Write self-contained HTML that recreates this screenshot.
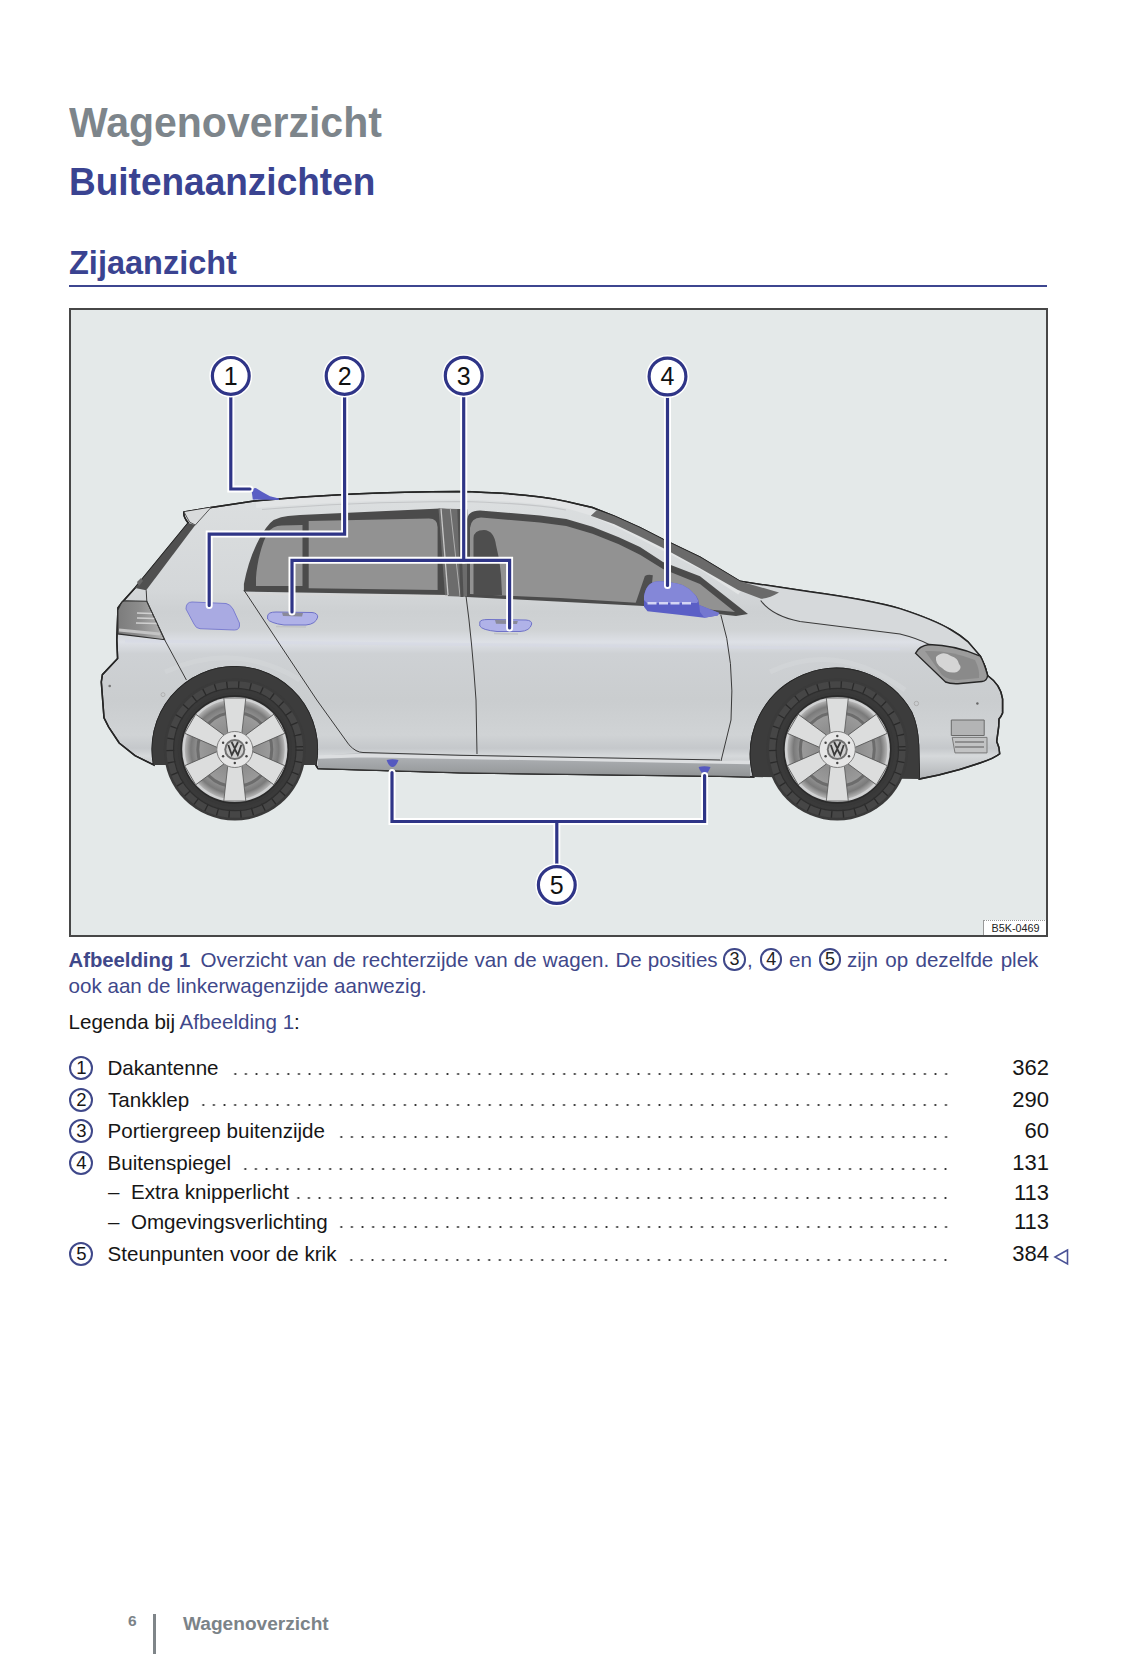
<!DOCTYPE html>
<html><head><meta charset="utf-8">
<style>
html,body{margin:0;padding:0;background:#fff;}
body{width:1142px;height:1654px;position:relative;overflow:hidden;font-family:"Liberation Sans",sans-serif;}
.a{position:absolute;white-space:nowrap;line-height:1;}
.h1{left:69px;top:103px;font-size:41px;font-weight:bold;color:#7d858b;transform:scaleY(1.055);transform-origin:0 34.7px;}
.h2{left:69px;top:164px;font-size:37px;font-weight:bold;color:#3a4391;transform:scaleY(1.045);transform-origin:0 31.3px;}
.h3{left:69px;top:247px;font-size:32.5px;font-weight:bold;color:#3a4391;}
.rule{position:absolute;left:69px;top:285px;width:978px;height:2px;background:#3d4690;}
.fig{position:absolute;left:69px;top:308px;width:975px;height:625px;border:2px solid #474747;background:#e4e9e9;overflow:hidden;}
.cap{font-size:20.6px;color:#3f488a;}
.leg{font-size:20.6px;color:#161616;}
.pg{right:93px;font-size:22px;color:#161616;}
.dots{position:absolute;height:4px;background-image:radial-gradient(circle at 50% 50%,#333 0,#333 0.75px,rgba(51,51,51,0) 1.35px);background-size:10.62px 4px;background-repeat:repeat-x;}
.cn{position:absolute;box-sizing:border-box;width:24px;height:24px;border:2px solid #3f488a;border-radius:50%;text-align:center;line-height:20.5px;font-size:18.5px;color:#161616;}
.cc{position:absolute;box-sizing:border-box;width:22.6px;height:22.6px;border:2.2px solid #3f488a;border-radius:50%;text-align:center;line-height:18.6px;font-size:18px;color:#222;}
</style></head>
<body>
<div class="a h1">Wagenoverzicht</div>
<div class="a h2">Buitenaanzichten</div>
<div class="a h3">Zijaanzicht</div>
<div class="rule"></div>
<div class="fig">
<svg width="975" height="625" viewBox="71 310 975 625" style="position:absolute;left:0;top:0">
<defs>
  <linearGradient id="bodyG" gradientUnits="userSpaceOnUse" x1="0" y1="490" x2="0" y2="780">
    <stop offset="0" stop-color="#dcdfe0"/>
    <stop offset="0.345" stop-color="#d4d7d9"/>
    <stop offset="0.42" stop-color="#cdd0d2"/>
    <stop offset="0.483" stop-color="#d0d3d5"/>
    <stop offset="0.524" stop-color="#dde0e6"/>
    <stop offset="0.565" stop-color="#ced1d4"/>
    <stop offset="0.724" stop-color="#cacdcf"/>
    <stop offset="0.845" stop-color="#d0d3d5"/>
    <stop offset="0.89" stop-color="#c5c8cb"/>
    <stop offset="0.917" stop-color="#d6d9db"/>
    <stop offset="1" stop-color="#aeb1b4"/>
  </linearGradient>
  <linearGradient id="tailG" x1="0" y1="0" x2="0" y2="1">
    <stop offset="0" stop-color="#9a9a9a"/>
    <stop offset="0.55" stop-color="#858585"/>
    <stop offset="1" stop-color="#b8b8b8"/>
  </linearGradient>
  <linearGradient id="mirG" x1="0" y1="0" x2="0" y2="1">
    <stop offset="0" stop-color="#8588dc"/>
    <stop offset="0.5" stop-color="#6366cc"/>
    <stop offset="1" stop-color="#4448b4"/>
  </linearGradient>
  <radialGradient id="gapG" cx="0.5" cy="0.5" r="0.5">
    <stop offset="0" stop-color="#a8a8a8"/>
    <stop offset="0.4" stop-color="#8e8e8e"/>
    <stop offset="0.7" stop-color="#9a9a9a"/>
    <stop offset="0.88" stop-color="#7a7a7a"/>
    <stop offset="1" stop-color="#b5b5b5"/>
  </radialGradient>
  <g id="wheel">
    <circle r="71" fill="#3a3a3a"/>
    <circle r="64.5" fill="none" stroke="#464646" stroke-width="7.6"/>
    <circle r="64.5" fill="none" stroke="#2a2a2a" stroke-width="7.8" stroke-dasharray="1.3 10.5"/>
    <circle r="61.2" fill="none" stroke="#2e2e2e" stroke-width="1.2"/>
    <circle r="57" fill="#383838"/>
    <circle r="53.5" fill="none" stroke="#2a2a2a" stroke-width="1.5"/>
    <circle r="52.6" fill="#cfd0d1"/>
    <circle r="50" fill="url(#gapG)"/>
    <circle r="37" fill="none" stroke="#6c6c6c" stroke-width="3"/>
    <g fill="#dcdddd" stroke="#555" stroke-width="0.8">
      <path id="spk" d="M-7,-16 L-11,-51.5 L11,-51.5 L7,-16 Z"/>
      <use href="#spk" transform="rotate(60)"/>
      <use href="#spk" transform="rotate(120)"/>
      <use href="#spk" transform="rotate(180)"/>
      <use href="#spk" transform="rotate(240)"/>
      <use href="#spk" transform="rotate(300)"/>
    </g>
    <circle r="18" fill="#e6e6e6" stroke="#7f7f7f" stroke-width="1"/>
    <g fill="#444"><circle cx="0" cy="-13.5" r="1.2"/><circle cx="11.7" cy="-6.75" r="1.2"/><circle cx="11.7" cy="6.75" r="1.2"/><circle cx="0" cy="13.5" r="1.2"/><circle cx="-11.7" cy="6.75" r="1.2"/><circle cx="-11.7" cy="-6.75" r="1.2"/></g>
    <circle r="10.5" fill="#6f6f6f"/>
    <circle r="8.6" fill="#d0d0d0"/>
    <path d="M-6.5,-4.5 L-3,5.5 L0,-0.5 L3,5.5 L6.5,-4.5 M-3.2,-7.5 L0,-1 L3.2,-7.5" fill="none" stroke="#3a3a3a" stroke-width="1.8"/>
  </g>
</defs>
<!-- body silhouette -->
<path d="M184,512 L211,507.5 L254,501 Q350,492 458,491.5 Q530,493 566.3,501.4 L592.5,507.5 L614.4,516.3 L640,527.7 L663,539.4 L700,557.2 L740,581.3 L810,591.8 Q870,600 900,608.6 Q935,620 951.3,630 Q960,635 967.7,641.6 L980.3,656.1 L985.1,666.8 L987.6,675.5 Q1001,685 1002.6,699 L1002.6,713 Q1001,717 999,719 L998.7,726.7 L996.7,741.3 Q999.5,747 999.7,753.8 Q995,758 980,763 Q960,770 938.7,775.1 L919.3,779 L918.5,745 Q917.5,725 911.4,712 A86,86 0 0 0 753.6,777 L720,776.3 L460,772.8 L318,768.6 L315.8,765 A82.5,82.5 0 1 0 153.8,765 L135,755.6 L119.2,743 L108.7,727.2 L104,717.8 L102.9,703 L101.3,682 L102.4,674.7 L117.6,658.4 L116.8,640 L118,607.7 L122.4,602 L135,588 L188.3,523 Q183,517 184,512 Z" fill="url(#bodyG)" stroke="#262626" stroke-width="1.5"/>
<!-- roof rail highlight -->
<path d="M256,505 Q350,497 458,496.5 Q530,498 566,505 L590,512 L625,528 L700,566 L740,592" fill="none" stroke="#e2e4e5" stroke-width="6"/>
<path d="M262,509.5 Q350,502 458,501.5 Q530,503 566,510" fill="none" stroke="#c4c6c8" stroke-width="1.2"/>
<!-- hood lighter panel -->
<path d="M740,581.3 L810,591.8 Q870,600 900,608.6 Q935,620 951.3,630 Q960,635 967.7,641.6 L980.3,656.1 L954,647.4 L929,644.5 Q918,638.5 900,634 L800,621.5 Q772,616 760.7,600.5 Z" fill="#d6d9db"/>
<path d="M760.7,600.5 Q772,616 800,621.5 L900,634 Q918,638.5 929,644.5" fill="none" stroke="#3a3a3a" stroke-width="1.1"/>
<path d="M184,512 L211,507.5 L254,501 Q350,492 458,491.5 Q530,493 566.3,501.4 L592.5,507.5 L614.4,516.3 L640,527.7 L663,539.4 L700,557.2 L740,581.3 L810,591.8 Q870,600 900,608.6 Q935,620 951.3,630 Q960,635 967.7,641.6 L980.3,656.1 L985.1,666.8 L987.6,675.5 Q1001,685 1002.6,699 L1002.6,713 Q1001,717 999,719 L998.7,726.7 L996.7,741.3 Q999.5,747 999.7,753.8 Q995,758 980,763 Q960,770 938.7,775.1 L919.3,779 L918.5,745 Q917.5,725 911.4,712 A86,86 0 0 0 753.6,777 L720,776.3 L460,772.8 L318,768.6 L315.8,765 A82.5,82.5 0 1 0 153.8,765 L135,755.6 L119.2,743 L108.7,727.2 L104,717.8 L102.9,703 L101.3,682 L102.4,674.7 L117.6,658.4 L116.8,640 L118,607.7 L122.4,602 L135,588 L188.3,523 Q183,517 184,512 Z" fill="none" stroke="#262626" stroke-width="1.5"/>
<!-- shoulder blue tint line -->
<path d="M125,641 L900,649" stroke="#d6d9e6" stroke-width="3" opacity="0.5"/>
<!-- small details -->
<circle cx="109.7" cy="686" r="1.3" fill="#777"/>
<circle cx="163" cy="694.6" r="2" fill="none" stroke="#aaa" stroke-width="0.8"/>
<circle cx="916.4" cy="703.5" r="2.2" fill="none" stroke="#aaa" stroke-width="0.9"/>
<path d="M770,672 Q836,640 905,690" fill="none" stroke="#d6d9dc" stroke-width="5" opacity="0.45"/>
<path d="M165,672 Q234,640 300,680" fill="none" stroke="#d6d9dc" stroke-width="5" opacity="0.4"/>
<!-- wheel arches dark -->
<path d="M919.3,779 L918.5,745 Q917.5,725 911.4,712 A86,86 0 0 0 753.6,777 Z" fill="#3c3c3c"/>
<path d="M315.8,765 A82.5,82.5 0 1 0 153.8,765 Z" fill="#3c3c3c"/>
<use href="#wheel" x="837.3" y="749.5"/>
<use href="#wheel" x="234.8" y="749.5"/>
<!-- sill -->
<linearGradient id="sillG" x1="0" y1="0" x2="0" y2="1"><stop offset="0" stop-color="#c4c7ca"/><stop offset="0.3" stop-color="#a9acaf"/><stop offset="0.75" stop-color="#9a9d9f"/><stop offset="1" stop-color="#8f9294"/></linearGradient>
<path d="M363,752.5 L720,760 L750,762 L750,777 L720,776.3 L460,772.8 L318,768.6 L318,756 Z" fill="url(#sillG)"/>
<path d="M318,757 L363,755.5 L750,762.5" stroke="#dcdee0" stroke-width="3.5" fill="none"/>
<path d="M318,768.6 L460,772.8 L720,776.3 L750,777" stroke="#333" stroke-width="1.1" fill="none"/>
<!-- rear hatch glass strip -->
<path d="M188.3,523 L195.3,525 L146.2,590.2 L135,588 Z" fill="#505050"/>
<path d="M184,512 L189.7,522.2 L195.3,525 L211,507.5" fill="#d9dbdc" stroke="#333" stroke-width="0.8"/>
<path d="M137,582 L141,578 L143,581 L139,586 Z" fill="#666"/>
<!-- rear windows -->
<path d="M243.9,591.5 L243.9,584 C248,562 256,542 266,528 Q273,517 288,516 L300,515 L440,508.6 L447,509 L449,595 Z" fill="#4b4b4b"/>
<path d="M256,586 L256,578 C257,562 262,542 268,533 Q272,525.5 282,525.5 L302.5,525 L302.5,586 Z" fill="#929292"/>
<path d="M308.7,588.2 L308.7,521 L429,518.4 Q437.6,518.4 437.6,527 L437.6,590 Z" fill="#929292"/>
<path d="M438.5,508.5 L467.3,509.3 L470,597 L445,596 Z" fill="#6c6c6c"/>
<path d="M441,508.5 L448,595" stroke="#c8c8c8" stroke-width="1.3"/>
<path d="M450.3,508.5 L460,596" stroke="#b5b5b5" stroke-width="0.9"/>
<path d="M458.8,509 L462,597" stroke="#505050" stroke-width="3"/>
<path d="M243,594 L448,596" stroke="#d6d6d6" stroke-width="1.5"/>
<!-- front window -->
<path d="M467,597 L467,521 Q467,510.5 480,510.5 L540,515.4 L566.3,518.9 L592.5,526.8 L618.8,537.3 L640,546.9 L663,562 L700,576.2 L748,614 L736,616 L644,606 Z" fill="#4b4b4b"/>
<path d="M470,594 L470,528 Q471,517.5 481,517.5 L540,522.4 L566.3,525.9 L592.5,533.8 L618.8,544.3 L640,554.8 L663,568.9 L700,584 L735,612 L644,603.2 L560,598 Z" fill="#929292"/>
<path d="M473.5,595 L473.5,538 Q474,530 484,530 Q494,530.5 496,545 Q500,560 501,575 L502,595 Z" fill="#4e4e4e"/>
<path d="M635.3,604 L644.9,576 Q648,574 652.8,575.3 L650,604 Z" fill="#4f4f4f"/>
<!-- windshield dark strip -->
<path d="M597,510 L614.4,516.3 L640,527.7 L663,539.4 L700,557.2 L740,581.3 L779,592.5 Q770,598 761,598.8 L738,590 L700,568.2 L663,548 L640,536.4 L614.4,524.2 L590.8,515.8 Z" fill="#6a6a6a"/>
<!-- tail light -->
<linearGradient id="tlG" x1="0" y1="0" x2="1" y2="0"><stop offset="0" stop-color="#7c7c7c"/><stop offset="0.45" stop-color="#8c8c8c"/><stop offset="1" stop-color="#b4b4b4"/></linearGradient>
<path d="M120.5,604.5 Q122,601 124.7,600.8 L146.8,601.3 L164.6,639.7 L117.9,633.9 L117.9,610 Z" fill="url(#tlG)" stroke="#2e2e2e" stroke-width="1.1"/>
<path d="M137,613 L152,613.5 M137,618 L155,618.5 M136,623 L157,623.5" stroke="#d0d0d0" stroke-width="1.6"/>
<path d="M119,630 L160,634" stroke="#c4c4c4" stroke-width="3"/>
<!-- headlight -->
<path d="M915.5,653.2 Q919,646 929,644.5 Q955,645 980.3,656.1 Q984,662 987.6,675.5 Q987,681 982,681.5 L958,683.7 Q950,684 945.5,682 Z" fill="#9c9c9c" stroke="#262626" stroke-width="1.4"/>
<path d="M925,651 Q950,650 975,660 Q980,670 979,678 L958,680 Q948,680 942,675 Z" fill="#8a8a8a"/>
<path d="M936,657 Q943,650 951,656 Q958,658 959,664 Q963,668 957,672 Q948,674 942,668 Q935,664 936,657 Z" fill="#d5d5d5"/>
<!-- fog light / grille -->
<path d="M951.3,720 L984.2,720 L984.2,735.5 L951.3,735.5 Z" fill="#b3b4b5" stroke="#6a6a6a" stroke-width="1"/>
<path d="M952.2,737.4 L987,737.4 L987,752.9 L955,752.9 Z" fill="#c2c3c4" stroke="#7a7a7a" stroke-width="1"/>
<path d="M955,742 L984,742 M955,747 L984,747" stroke="#7d7d7d" stroke-width="1.3"/>
<circle cx="977.4" cy="703.5" r="1.2" fill="#666"/>
<!-- lines -->
<g fill="none" stroke="#3a3a3a" stroke-width="1">
  <path d="M243.9,590 L283.5,650 L316.8,700 L349,744.8 Q356,752.5 363,752.5 L460,755.3 L720,760"/>
  <path d="M466,596 Q472,640 476,700 L477,754"/>
  <path d="M720.8,614.8 Q735,660 731,720 L721,761"/>
  <path d="M146.2,590.2 L146.8,601.3 L164.6,639.7 L186.4,680"/>
</g>
<!-- blue parts -->
<path d="M252.8,499.6 L251.7,491.6 Q253,487.5 256.2,488.2 Q262,492 270,496.2 L279,498.5 L279,500 Z" fill="#5a5ec4"/>
<path d="M186,609 Q186,602 192,602 L226,603.5 Q230,604 233,609 L239.4,623 Q240.5,630 234.5,630 L200,628.7 Q196,628.5 194,624 Z" fill="#a9aae2" stroke="#7c7ed0" stroke-width="1"/>
<path d="M267.6,616 Q268,612 276,612 L312,612.5 Q317.7,613 317.7,617 Q316,624 306,625 L284,625 Q270,623 267.6,619 Z" fill="#b0b2e8" stroke="#6f72c8" stroke-width="1"/>
<path d="M282,612.5 L303,613 L302,616.5 L283,616 Z" fill="#8a8a9a"/>
<path d="M276,626.5 L306,627" stroke="#c2c4c6" stroke-width="1.6"/>
<path d="M479.8,622 Q480.5,619.5 488,619.5 L526,620 Q532,620.5 531.7,624 Q530,631 520,631.5 L497,631.5 Q482,630 479.8,626 Z" fill="#b0b2e8" stroke="#6f72c8" stroke-width="1"/>
<path d="M495,620 L518,620.3 L517,624 L496,623.8 Z" fill="#8a8a9a"/>
<path d="M494,633.5 L518,634" stroke="#c2c4c6" stroke-width="1.6"/>
<path d="M644,606.8 L644,596.3 Q646,583 656.3,581.4 Q664,581 669.4,582.3 Q676,583 682.5,584.9 Q689,588 693,592.8 Q697,596 698.3,599.8 L699.2,605 L719.3,612.9 L717.6,615.5 L704.4,617.7 L679,614.7 L647.5,611.2 Z" fill="#5b5fc6"/>
<path d="M644,600 L644,596.3 Q646,583 656.3,581.4 Q664,581 669.4,582.3 Q676,583 682.5,584.9 Q689,588 693,592.8 Q697,596 698.3,601 L697,603 L647,603 Z" fill="#8487d8"/>
<path d="M699.2,605 L719.3,612.9 L717.6,615.5 L704.4,617.7 L700,612 Z" fill="#7477d0"/>
<path d="M647.5,603.3 L693,603.3" stroke="#d4d5f4" stroke-width="2.6" stroke-dasharray="9 2.5"/>
<path d="M386.6,760 Q392.5,758.5 398.5,760 Q396,767 392.5,767 Q389,767 386.6,760 Z" fill="#5559c0"/>
<path d="M698.6,767 Q704.5,765.5 710.5,767 Q708,774 704.5,774 Q701,774 698.6,767 Z" fill="#5559c0"/>
<!-- callouts -->
<g fill="none" stroke-linejoin="miter" stroke-linecap="round">
  <g stroke="#fff" stroke-width="7">
    <path d="M230.8,396 L230.8,489 L250,489"/>
    <path d="M344.6,396 L344.6,534.1 L209.2,534.1 L209.2,605.5"/>
    <path d="M463.7,396 L463.7,560"/><path d="M292,612 L292,560.3 L509.6,560.3 L509.6,628"/>
    <path d="M667.5,397 L667.5,585.5"/>
    <path d="M556.8,865 L556.8,821.5"/><path d="M392,772.5 L392,821.5 L704.6,821.5 L704.6,775.5"/>
  </g>
  <g stroke="#2f3587" stroke-width="3.2">
    <path d="M230.8,396 L230.8,489 L250,489"/>
    <path d="M344.6,396 L344.6,534.1 L209.2,534.1 L209.2,605.5"/>
    <path d="M463.7,396 L463.7,560"/><path d="M292,612 L292,560.3 L509.6,560.3 L509.6,628"/>
    <path d="M667.5,397 L667.5,585.5"/>
    <path d="M556.8,865 L556.8,821.5"/><path d="M392,772.5 L392,821.5 L704.6,821.5 L704.6,775.5"/>
  </g>
</g>
<g fill="#fff" stroke="#fff" stroke-width="2"><circle cx="230.8" cy="375.9" r="20.5"/><circle cx="344.6" cy="375.9" r="20.5"/><circle cx="463.7" cy="375.7" r="20.5"/><circle cx="667.5" cy="376.5" r="20.5"/><circle cx="556.8" cy="885" r="20.5"/></g>
<g fill="#fff" stroke="#2f3587" stroke-width="3.2">
  <circle cx="230.8" cy="375.9" r="18.4"/>
  <circle cx="344.6" cy="375.9" r="18.4"/>
  <circle cx="463.7" cy="375.7" r="18.4"/>
  <circle cx="667.5" cy="376.5" r="18.4"/>
  <circle cx="556.8" cy="885" r="18.4"/>
</g>
<g font-family="Liberation Sans" font-size="25" fill="#111" text-anchor="middle">
  <text x="230.8" y="384.8">1</text>
  <text x="344.6" y="384.8">2</text>
  <text x="463.7" y="384.6">3</text>
  <text x="667.5" y="385.4">4</text>
  <text x="556.8" y="893.9">5</text>
</g>

</svg>
<div style="position:absolute;left:912px;top:610px;width:63px;height:15px;background:#fff;border-left:1px solid #999;border-top:1px dotted #999;font-size:10.8px;line-height:15px;text-align:center;color:#222;">B5K-0469</div>
</div>
<div class="a cap" style="left:68.5px;top:949.6px;"><b style="font-size:20.3px">Afbeelding 1</b></div>
<div class="a cap" style="left:200.5px;top:949.6px;word-spacing:0.4px">Overzicht van de rechterzijde van de wagen. De posities</div>
<div class="cc" style="left:723.3px;top:948.4px">3</div>
<div class="cc" style="left:759.9px;top:948.4px">4</div>
<div class="cc" style="left:818.6px;top:948.4px">5</div>
<div class="a cap" style="left:747px;top:949.6px;">,</div>
<div class="a cap" style="left:789px;top:949.6px;">en</div>
<div class="a cap" style="left:847px;top:949.6px;word-spacing:1.6px">zijn op dezelfde plek</div>
<div class="a cap" style="left:68.5px;top:975.6px;">ook aan de linkerwagenzijde aanwezig.</div>
<div class="a leg" style="left:68.5px;top:1011.6px;font-size:20.6px">Legenda bij <span style="color:#3f488a">Afbeelding 1</span>:</div>
<div class="cn" style="left:69.4px;top:1056.0px">1</div>
<div class="a leg" style="left:107.5px;top:1057.9px;">Dakantenne</div>
<div class="dots" style="left:229.65px;top:1071.5px;width:722.16px"></div>
<div class="a pg" style="top:1057.1px;">362</div>
<div class="cn" style="left:69.4px;top:1087.9px">2</div>
<div class="a leg" style="left:108px;top:1089.8px;">Tankklep</div>
<div class="dots" style="left:197.79px;top:1103.4px;width:754.02px"></div>
<div class="a pg" style="top:1089.0px;">290</div>
<div class="cn" style="left:69.4px;top:1119.1px">3</div>
<div class="a leg" style="left:107.5px;top:1121.0px;">Portiergreep buitenzijde</div>
<div class="dots" style="left:335.85px;top:1134.6px;width:615.96px"></div>
<div class="a pg" style="top:1120.2px;">60</div>
<div class="cn" style="left:69.4px;top:1151.0px">4</div>
<div class="a leg" style="left:107.5px;top:1152.9px;">Buitenspiegel</div>
<div class="dots" style="left:240.27px;top:1166.5px;width:711.54px"></div>
<div class="a pg" style="top:1152.1px;">131</div>
<div class="a leg" style="left:108px;top:1182.4px;">–&nbsp; Extra knipperlicht</div>
<div class="dots" style="left:293.37px;top:1196.0px;width:658.44px"></div>
<div class="a pg" style="top:1181.6px;">113</div>
<div class="a leg" style="left:108px;top:1211.6px;">–&nbsp; Omgevingsverlichting</div>
<div class="dots" style="left:335.85px;top:1225.2px;width:615.96px"></div>
<div class="a pg" style="top:1210.8px;">113</div>
<div class="cn" style="left:69.4px;top:1242.1px">5</div>
<div class="a leg" style="left:107.5px;top:1244.0px;">Steunpunten voor de krik</div>
<div class="dots" style="left:346.47px;top:1257.6px;width:605.34px"></div>
<div class="a pg" style="top:1243.2px;">384</div>
<svg class="a" style="left:1053px;top:1247.5px" width="16" height="18" viewBox="0 0 16 18"><path d="M14.5 2 L2 9 L14.5 16 Z" fill="none" stroke="#4a5296" stroke-width="1.6"/></svg>
<div class="a" style="left:128px;top:1612.5px;font-size:15.5px;font-weight:bold;color:#7b8388;">6</div>
<div style="position:absolute;left:153px;top:1614px;width:3px;height:40px;background:#7f8589"></div>
<div class="a" style="left:183px;top:1614px;font-size:19.1px;font-weight:bold;color:#7b8388;">Wagenoverzicht</div>
</body></html>
